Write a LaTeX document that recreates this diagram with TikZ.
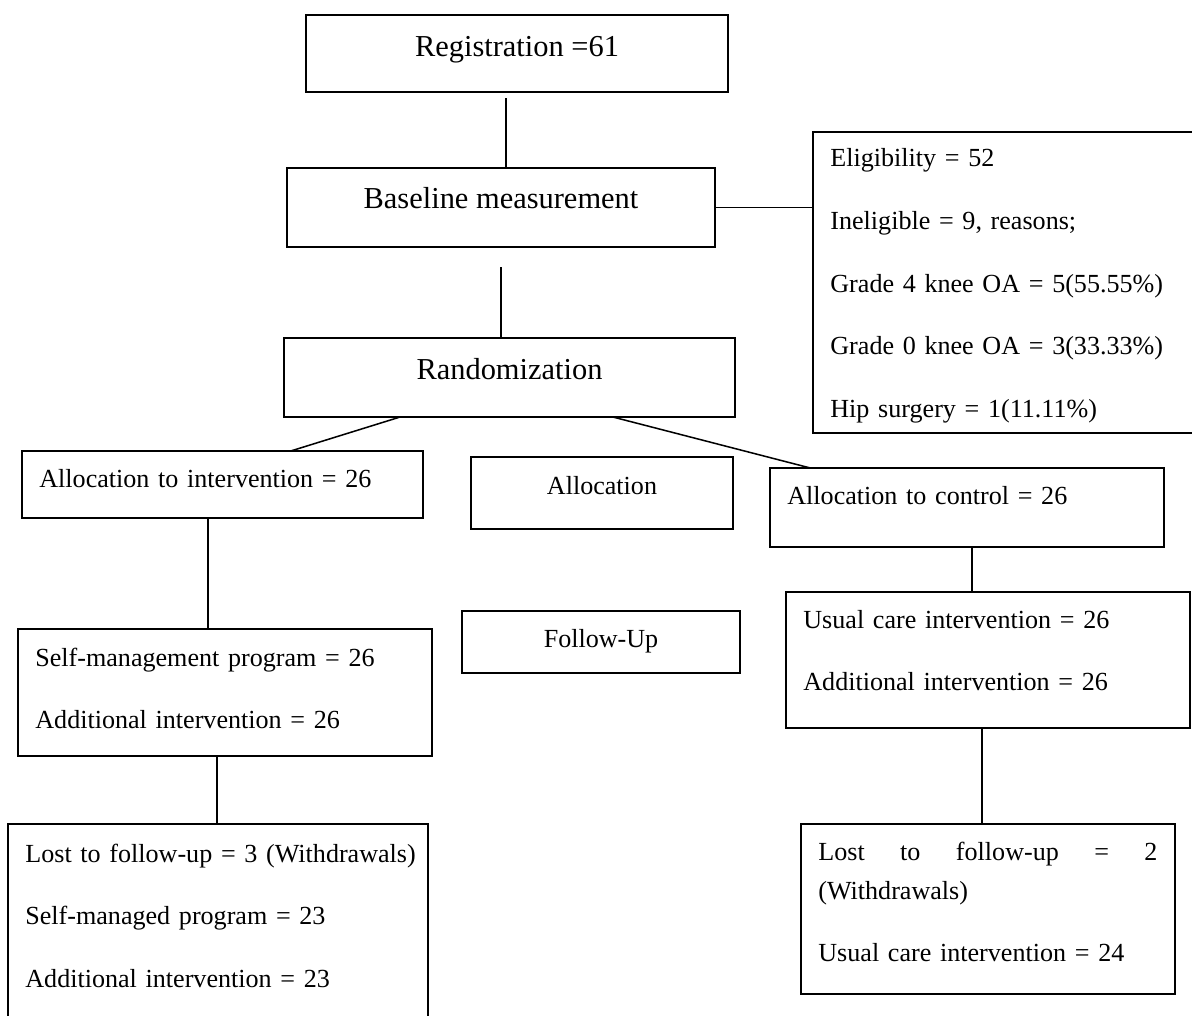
\documentclass[tikz,border=0pt]{standalone}
\usepackage{fontspec}
\setmainfont{Liberation Serif}

\begin{document}
\begin{tikzpicture}[
    x=0.46pt, y=-0.46pt,
    stage/.style={
        rectangle, draw, line width=0.8pt,
        inner xsep=8pt, inner ysep=0pt, outer sep=0pt,
        anchor=base, font=\fontsize{14pt}{17pt}\selectfont
    },
    phase/.style={
        stage, font=\fontsize{12pt}{14pt}\selectfont
    },
    note/.style={
        rectangle, draw, line width=0.8pt,
        inner xsep=8pt, inner ysep=0pt, outer sep=0pt,
        anchor=base west, align=left,
        font=\fontsize{12pt}{28.8pt}\selectfont
    },
    link/.style={line width=0.7pt}
]

\useasboundingbox (0,0) rectangle (1192,1016);
\clip (0,0) rectangle (1192,1016);

% Main stages
\node[stage, minimum width=194.1pt, text height=19.3pt, text depth=16.1pt] (reg)  at (517,57)   {Registration =61};
\node[stage, minimum width=196.9pt, text height=18.9pt, text depth=17.5pt] (base) at (501,209)  {Baseline measurement};
\node[stage, minimum width=207.5pt, text height=18.9pt, text depth=17.5pt] (rand) at (509.5,379) {Randomization};

% Phase labels
\node[phase, minimum width=120.5pt, text height=17pt, text depth=16.1pt]   (alloc) at (602,494) {Allocation};
\node[phase, minimum width=127.9pt, text height=16.6pt, text depth=12pt]   (fup)   at (601,647) {Follow-Up};

% Eligibility
\node[note, text width=163.4pt, text height=16.1pt, text depth=122.4pt] (elig) at (813,167)
    {Eligibility = 52\\Ineligible = 9, reasons;\\Grade 4 knee OA = 5(55.55\%)\\Grade 0 knee OA = 3(33.33\%)\\Hip surgery = 1(11.11\%)};

% Intervention arm
\node[note, text width=168.5pt, text height=16.6pt, text depth=14.3pt] (aint)  at (22,487)
    {Allocation to intervention = 26};
\node[note, text width=174.4pt, text height=17pt, text depth=41.4pt]   (self)  at (18,666)
    {Self-management program = 26\\Additional intervention = 26};
\node[note, text width=177.2pt, text height=17.5pt, text depth=77.3pt] (lostL) at (8,862)
    {\mbox{Lost to follow-up = 3 (Withdrawals)}\\Self-managed program = 23\\Additional intervention = 23};

% Control arm
\node[note, text width=165.2pt, text height=16.6pt, text depth=19.8pt] (actl)  at (770,504)
    {Allocation to control = 26};
\node[note, text width=169.8pt, text height=16.6pt, text depth=46pt]   (usual) at (786,628)
    {Usual care intervention = 26\\Additional intervention = 26};
\node[note, text width=156pt, text height=16.6pt, text depth=61.6pt]   (lostR) at (801,860)
    {Lost \hfill to \hfill follow-up \hfill = \hfill 2\\[-10.8pt](Withdrawals)\\Usual care intervention = 24};

% Connectors
\draw[link, shorten <=2.8pt] (reg.south -| 506,0) -- (base.north -| 506,0);
\draw[link] (base.east) -- (base.east -| elig.west);
\draw[link, shorten <=9.2pt] (base.south) -- (rand.north -| base.south);
\draw[link] (rand.south -| 400,0) -- (aint.north -| 291,0);
\draw[link] (rand.south -| 613,0) -- (actl.north -| 810,0);
\draw[link] (aint.south -| 208,0) -- (self.north -| 208,0);
\draw[link] (actl.south -| 972,0) -- (usual.north -| 972,0);
\draw[link] (self.south -| 217,0) -- (lostL.north -| 217,0);
\draw[link] (usual.south -| 982,0) -- (lostR.north -| 982,0);

\end{tikzpicture}
\end{document}
